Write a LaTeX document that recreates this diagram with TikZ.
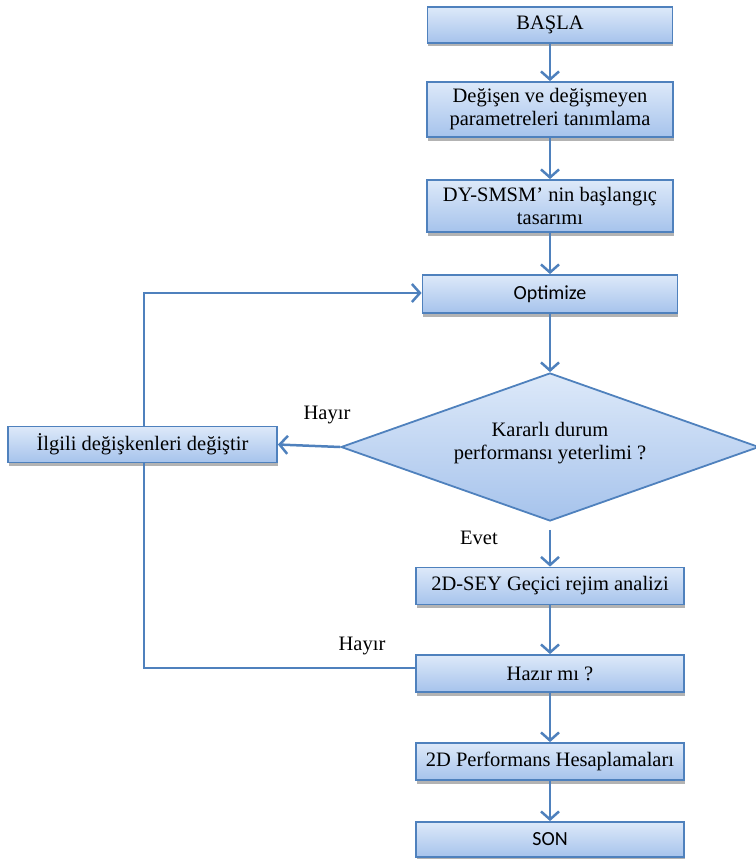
\documentclass[tikz,border=0pt]{standalone}
\usepackage{fontspec}
\setmainfont{Liberation Serif}
\newfontfamily\calfont{Carlito}
\usetikzlibrary{arrows.meta,shapes.geometric,shadows}
\definecolor{edgeblue}{RGB}{79,129,189}
\definecolor{boxtop}{RGB}{221,233,249}
\definecolor{boxbot}{RGB}{166,195,236}
\begin{document}
\begin{tikzpicture}[x=1pt,y=-1pt,
  font=\fontsize{20.5}{23}\selectfont,
  box/.style={draw=edgeblue, line width=1.8pt, top color=boxtop, bottom color=boxbot,
    inner sep=0pt, align=center, text=black,
    drop shadow={shadow xshift=0.5pt, shadow yshift=-3.5pt, fill=black!50, opacity=0.6}},
  decbox/.style={diamond, draw=edgeblue, line width=1.8pt, top color=boxtop, bottom color=boxbot,
    inner sep=0pt, aspect=2.8, align=center, minimum width=418pt, minimum height=148pt},
  arr/.style={draw=edgeblue, line width=2.5pt, -{Straight Barb[length=8pt,width=18pt]}},
  plain/.style={draw=edgeblue, line width=2.5pt},
  lbl/.style={inner sep=0pt}]
\useasboundingbox (0,0) rectangle (755,859);

\node[box, minimum width=245pt, minimum height=36pt] (start) at (550,25) {BAŞLA};
\node[box, minimum width=246pt, minimum height=55pt] (params) at (550,109.5) {Değişen ve değişmeyen\\parametreleri tanımlama};
\node[box, minimum width=246pt, minimum height=52pt] (design) at (550,206) {DY-SMSM' nin başlangıç\\tasarımı};
\node[box, minimum width=255pt, minimum height=38pt, font=\calfont\fontsize{20}{23}\selectfont] (opt) at (550,294) {Optimize};
\node[decbox] (dec) at (550,447) {};
\node[align=center, inner sep=0pt] (dectext) at (550,443) {Kararlı durum\\performansı yeterlimi ?};
\node[box, minimum width=269pt, minimum height=36pt] (change) at (142.5,444.5) {İlgili değişkenleri değiştir};
\node[box, minimum width=268pt, minimum height=37pt] (sey) at (550,586) {2D-SEY Geçici rejim analizi};
\node[box, minimum width=268pt, minimum height=37pt] (ready) at (550,673.5) {Hazır mı ?};
\node[box, minimum width=268pt, minimum height=37pt] (perf) at (550,761.5) {2D Performans Hesaplamaları};
\node[box, minimum width=268pt, minimum height=35pt, font=\calfont\fontsize{20}{23}\selectfont] (son) at (550,839.5) {SON};

\node[lbl] (hayir1) at (327,415) {Hayır};
\node[lbl] (evet) at (479,538) {Evet};
\node[lbl] (hayir2) at (362,646) {Hayır};

\draw[arr] (start.south) -- (params.north);
\draw[arr] (params.south) -- (design.north);
\draw[arr] (design.south) -- (opt.north);
\draw[arr] (opt.south) -- (dec.north);
\draw[arr] (dec.west) -- (change.east);
\draw[arr] ([yshift=-8pt]dec.south) -- (sey.north);
\draw[arr] (sey.south) -- (ready.north);
\draw[arr] (ready.south) -- (perf.north);
\draw[arr] (perf.south) -- (son.north);
\draw[arr] ([xshift=1.5pt]change.north) |- ([yshift=1pt]opt.west);
\draw[plain] ([yshift=5.5pt]ready.west) -| ([xshift=1.5pt]change.south);
\end{tikzpicture}
\end{document}
